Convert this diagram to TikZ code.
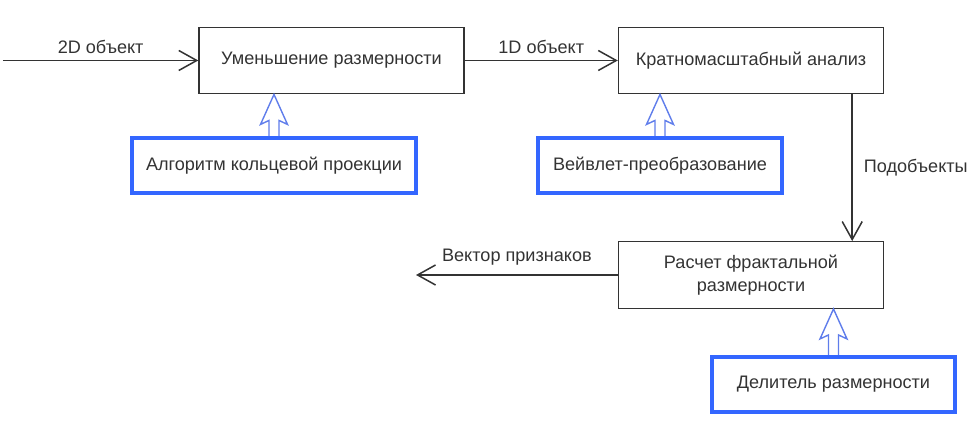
\documentclass[tikz,border=0pt]{standalone}
\usepackage{fontspec}
\setmainfont{Liberation Sans}
\definecolor{dgblue}{RGB}{51,102,255}
\definecolor{dgarrow}{RGB}{95,125,235}
\definecolor{dggray}{RGB}{51,51,51}
\usetikzlibrary{arrows.meta,positioning}

\begin{document}
\begin{tikzpicture}[
  font=\fontsize{10.3}{13}\selectfont,
  stage/.style={draw=dggray, line width=0.8pt, minimum width=5.3cm, minimum height=1.33cm, align=center, text=dggray},
  method/.style={draw=dgblue, line width=2.2pt, minimum height=1.1cm, align=center, text=dggray},
  flow/.style={-{Straight Barb[length=3.6mm,width=4mm]}, line width=0.85pt, draw=dggray},
  feed/.style={line width=0.8pt, draw=dgarrow, line join=miter},
  lbl/.style={text=dggray}
]
  \useasboundingbox (0,0) rectangle (19.5,8.5);

  %% main processing stages
  \node[stage] (reduce) at (6.63,7.29) {Уменьшение размерности};
  \node[stage] (multi) at (15.02,7.29) {Кратномасштабный анализ};
  \node[stage] (fractal) at (15.02,3.0) {Расчет фрактальной\\размерности};

  %% methods used by the stages
  \node[method, minimum width=5.68cm] (ring) at (5.48,5.19) {Алгоритм кольцевой проекции};
  \node[method, minimum width=4.88cm] (wavelet) at (13.2,5.19) {Вейвлет-преобразование};
  \node[method, minimum width=4.86cm] (divider) at (16.67,0.81) {Делитель размерности};

  %% free ends of input and output
  \coordinate (in) at (0.06,7.29);
  \coordinate (out) at (8.32,3.0);

  %% data flow
  \draw[flow] (in) -- node[lbl, above]{2D объект} (reduce);
  \draw[flow] (reduce) -- node[lbl, above]{1D объект} (multi);
  \draw[flow] ([xshift=-0.64cm]multi.south east) -- node[lbl, right, xshift=0.1cm]{Подобъекты} ([xshift=-0.64cm]fractal.north east);
  \draw[flow] (fractal) -- node[lbl, above, yshift=2pt]{Вектор признаков} (out);

  %% hollow arrows: methods feeding the stages
  \foreach \src/\dst in {ring/reduce, wavelet/multi, divider/fractal} {
    \coordinate (tip) at (\src |- \dst.south);
    \draw[feed] ([xshift=-1mm]\src.north) -- ([shift={(-1mm,-5.2mm)}]tip) -- ([shift={(-2.7mm,-6mm)}]tip)
      -- (tip) -- ([shift={(2.7mm,-6mm)}]tip) -- ([shift={(1mm,-5.2mm)}]tip) -- ([xshift=1mm]\src.north);
  }
\end{tikzpicture}
\end{document}
